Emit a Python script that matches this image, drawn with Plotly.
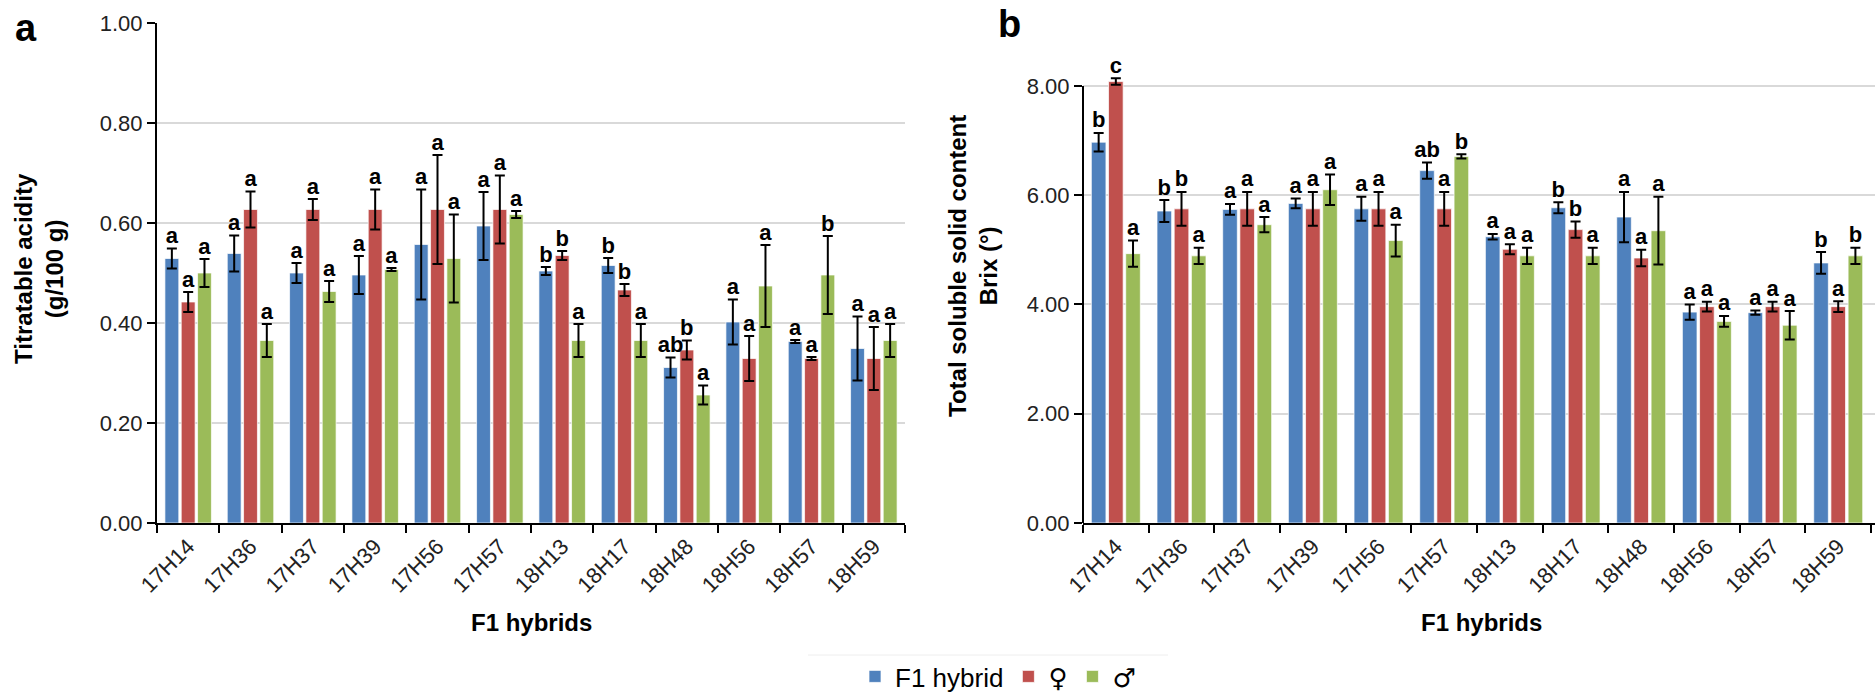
import plotly.graph_objects as go

cats = ["17H14", "17H36", "17H37", "17H39", "17H56", "17H57",
        "18H13", "18H17", "18H48", "18H56", "18H57", "18H59"]
series_names = ["F1 hybrid",
                "<span style='font-family:DejaVu Sans'>♀</span>",
                "<span style='font-family:DejaVu Sans'>♂</span>"]
colors = ["#4F81BD", "#C0504D", "#9BBB59"]

# Panel a: titratable acidity (g/100 g)
ta_f1 = [0.529, 0.539, 0.500, 0.496, 0.557, 0.594, 0.504, 0.515, 0.311, 0.402, 0.363, 0.349]
ta_f1_err = [0.020, 0.036, 0.020, 0.038, 0.110, 0.068, 0.008, 0.015, 0.020, 0.045, 0.003, 0.064]
ta_fem = [0.442, 0.627, 0.627, 0.627, 0.627, 0.627, 0.535, 0.466, 0.346, 0.329, 0.329, 0.329]
ta_fem_err = [0.020, 0.036, 0.021, 0.040, 0.109, 0.068, 0.009, 0.012, 0.019, 0.045, 0.003, 0.063]
ta_male = [0.500, 0.365, 0.463, 0.507, 0.529, 0.617, 0.365, 0.365, 0.256, 0.474, 0.496, 0.365]
ta_male_err = [0.028, 0.033, 0.021, 0.003, 0.088, 0.007, 0.033, 0.033, 0.019, 0.082, 0.078, 0.033]
ta_f1_lab = ["a", "a", "a", "a", "a", "a", "b", "b", "ab", "a", "a", "a"]
ta_fem_lab = ["a", "a", "a", "a", "a", "a", "b", "b", "b", "a", "a", "a"]
ta_male_lab = ["a", "a", "a", "a", "a", "a", "a", "a", "a", "a", "b", "a"]

# Panel b: total soluble solid content (Brix °)
tss_f1 = [6.97, 5.71, 5.74, 5.85, 5.75, 6.45, 5.24, 5.77, 5.60, 3.86, 3.85, 4.76]
tss_f1_err = [0.17, 0.20, 0.10, 0.09, 0.22, 0.15, 0.05, 0.10, 0.46, 0.14, 0.04, 0.20]
tss_fem = [8.08, 5.75, 5.75, 5.75, 5.75, 5.75, 5.01, 5.37, 4.85, 3.96, 3.96, 3.96]
tss_fem_err = [0.06, 0.31, 0.31, 0.31, 0.31, 0.31, 0.09, 0.15, 0.15, 0.09, 0.09, 0.10]
tss_male = [4.93, 4.89, 5.46, 6.10, 5.17, 6.71, 4.89, 4.89, 5.35, 3.69, 3.62, 4.89]
tss_male_err = [0.24, 0.15, 0.14, 0.28, 0.29, 0.04, 0.15, 0.15, 0.62, 0.10, 0.26, 0.15]
tss_f1_lab = ["b", "b", "a", "a", "a", "ab", "a", "b", "a", "a", "a", "b"]
tss_fem_lab = ["c", "b", "a", "a", "a", "a", "a", "b", "a", "a", "a", "a"]
tss_male_lab = ["a", "a", "a", "a", "a", "b", "a", "a", "a", "a", "a", "b"]

FONT = "Liberation Sans, Arial, sans-serif"
W, H = 1875, 700

fig = go.Figure()

panels = [
    ("x", "y", [ta_f1, ta_fem, ta_male], [ta_f1_err, ta_fem_err, ta_male_err],
     [ta_f1_lab, ta_fem_lab, ta_male_lab], True),
    ("x2", "y2", [tss_f1, tss_fem, tss_male], [tss_f1_err, tss_fem_err, tss_male_err],
     [tss_f1_lab, tss_fem_lab, tss_male_lab], False),
]

for xa, ya, vals, errs, labs, show in panels:
    for i in range(3):
        fig.add_trace(go.Bar(
            x=cats, y=vals[i], name=series_names[i], xaxis=xa, yaxis=ya,
            marker=dict(color=colors[i], line=dict(color="rgba(255,255,255,0.7)", width=1)),
            error_y=dict(type="data", array=errs[i], color="black", thickness=2, width=5),
            offsetgroup=str(i), alignmentgroup=xa, showlegend=show, legendgroup=str(i),
        ))
    for i in range(3):
        tops = [v + e for v, e in zip(vals[i], errs[i])]
        fig.add_trace(go.Scatter(
            x=cats, y=tops, text=labs[i], mode="text", textposition="top center",
            textfont=dict(family=FONT, size=22, color="black", weight="bold"),
            xaxis=xa, yaxis=ya, offsetgroup=str(i), alignmentgroup=xa,
            showlegend=False, cliponaxis=False, hoverinfo="skip",
        ))

def px_x(p):
    return p / W

def px_y(p):
    return (H - p) / H

tickfont = dict(family=FONT, size=22, color="#222222")
grid = "#d9d9d9"

def note(text, x, y, size, angle=0):
    return dict(text=text, x=px_x(x), y=px_y(y), xref="paper", yref="paper",
                xanchor="center", yanchor="middle", showarrow=False, textangle=angle,
                font=dict(family=FONT, size=size, color="black"))

fig.update_layout(
    template="none",
    width=W, height=H,
    margin=dict(l=0, r=0, t=0, b=0, pad=0),
    paper_bgcolor="white", plot_bgcolor="white",
    barmode="group", bargap=0.215, bargroupgap=0.15,
    scattermode="group", scattergap=0.215,
    font=dict(family=FONT, color="black"),
    xaxis=dict(domain=[px_x(157), px_x(905)], anchor="y", type="category", automargin=False,
               range=[-0.5, 11.5], tickangle=-45, tickfont=tickfont,
               showline=True, linecolor="black", linewidth=2,
               ticks="outside", tickson="boundaries", ticklen=8, tickwidth=2, tickcolor="black",
               showgrid=False, zeroline=False),
    yaxis=dict(domain=[px_y(523), px_y(23)], anchor="x", range=[0, 1.0], automargin=False,
               tickvals=[0, 0.2, 0.4, 0.6, 0.8, 1.0], tickformat=".2f", tickfont=tickfont,
               showline=True, linecolor="black", linewidth=2,
               ticks="outside", ticklen=8, tickwidth=2, tickcolor="black",
               showgrid=True, gridcolor=grid, gridwidth=1.5, zeroline=False),
    xaxis2=dict(domain=[px_x(1083), 1.0], anchor="y2", type="category", automargin=False,
                range=[-0.5, 11.56], tickangle=-45, tickfont=tickfont,
                showline=True, linecolor="black", linewidth=2,
                ticks="outside", tickson="boundaries", ticklen=8, tickwidth=2, tickcolor="black",
                showgrid=False, zeroline=False),
    yaxis2=dict(domain=[px_y(523), px_y(75)], anchor="x2", range=[0, 8.2], automargin=False,
                tickvals=[0, 2, 4, 6, 8], tickformat=".2f", tickfont=tickfont,
                showline=False, ticks="outside", ticklen=8, tickwidth=2, tickcolor="black",
                showgrid=True, gridcolor=grid, gridwidth=1.5, zeroline=False),
    legend=dict(orientation="h", x=px_x(998), xanchor="center", y=0, yanchor="bottom",
                font=dict(family=FONT, size=26, color="black"), bgcolor="rgba(0,0,0,0)",
                itemwidth=30, traceorder="normal"),
    shapes=[
        dict(type="line", xref="x2 domain", x0=0, x1=0, yref="y2", y0=0, y1=8,
             line=dict(color="black", width=2)),
        dict(type="line", xref="paper", yref="paper", x0=px_x(808), x1=px_x(1168),
             y0=px_y(655), y1=px_y(655), line=dict(color="#eeeeee", width=1)),
    ],
    annotations=[
        note("<b>a</b>", 26, 28, 38),
        note("<b>b</b>", 1009, 24, 38),
        note("<b>Titratable acidity</b><br><b>(g/100 g)</b>", 39, 269, 24, -90),
        note("<b>Total soluble solid content</b><br><b>Brix (°)</b>", 973, 266, 24, -90),
        note("<b>F1 hybrids</b>", 531, 622, 24),
        note("<b>F1 hybrids</b>", 1481, 622, 24),
    ],
)

fig.write_html("out.html", config={"displayModeBar": False},
               post_script="document.body.style.margin='0px';document.body.style.overflow='hidden';")
